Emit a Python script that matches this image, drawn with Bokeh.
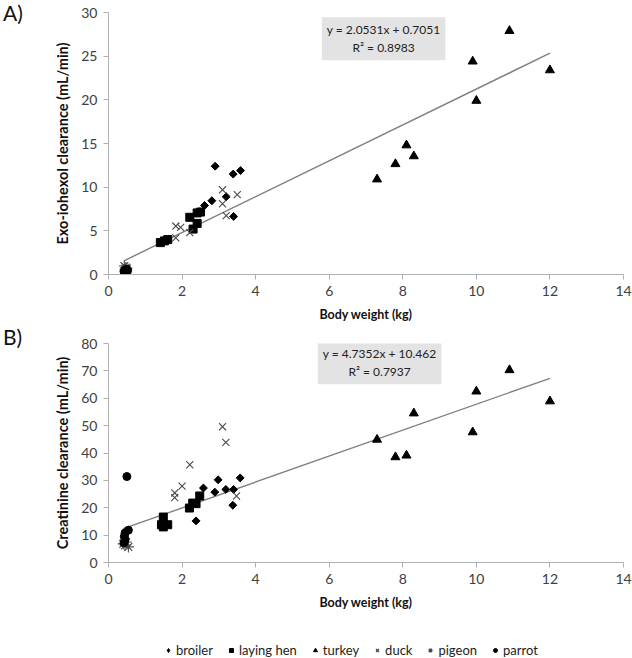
from bokeh.plotting import figure
from bokeh.layouts import column, row
from bokeh.models import Label, Legend, LegendItem, FixedTicker, Range1d, Div
from bokeh.embed import file_html
from bokeh.resources import INLINE
import numpy as np

# ---------------- data ----------------
species = ["broiler", "laying hen", "turkey", "duck", "pigeon", "parrot"]

# Panel A: exo-iohexol clearance (mL/min) vs body weight (kg)
broiler_a_x = [2.90, 3.39, 3.59, 3.20, 2.81, 2.61, 2.48, 3.40]
broiler_a_y = [12.4, 11.5, 11.9, 8.9, 8.45, 7.9, 7.2, 6.65]
hen_a_x = [2.21, 2.41, 2.50, 2.41, 2.30, 1.41, 1.52, 1.61]
hen_a_y = [6.55, 7.05, 7.15, 5.85, 5.2, 3.65, 3.85, 4.0]
turkey_a_x = [7.3, 7.8, 8.1, 8.3, 9.9, 10.0, 10.9, 12.0]
turkey_a_y = [10.9, 12.65, 14.8, 13.55, 24.4, 19.9, 27.9, 23.4]
duck_a_x = [1.83, 1.96, 1.83, 2.21, 3.10, 3.10, 3.50, 3.20]
duck_a_y = [5.55, 5.4, 4.2, 4.8, 9.7, 8.1, 9.15, 6.75]
pigeon_a_x = [0.43, 0.47, 0.50, 0.45]
pigeon_a_y = [0.98, 0.8, 0.7, 0.6]
parrot_a_x = [0.42, 0.45, 0.48, 0.50, 0.52, 0.45]
parrot_a_y = [0.35, 0.55, 0.3, 0.6, 0.45, 0.5]

# Panel B: creatinine clearance (mL/min) vs body weight (kg)
broiler_b_x = [2.58, 2.98, 2.89, 3.19, 3.40, 3.58, 3.38, 2.38]
broiler_b_y = [27.2, 30.2, 25.7, 26.7, 26.7, 30.9, 20.9, 15.2]
hen_b_x = [2.20, 2.29, 2.38, 2.48, 1.49, 1.44, 1.61, 1.49]
hen_b_y = [19.9, 21.7, 21.5, 24.3, 16.6, 13.8, 13.8, 13.0]
turkey_b_x = [7.3, 7.8, 8.1, 8.3, 9.9, 10.0, 10.9, 12.0]
turkey_b_y = [44.9, 38.5, 39.1, 54.5, 47.6, 62.5, 70.3, 58.9]
duck_b_x = [3.10, 3.19, 2.21, 2.00, 1.80, 1.80, 3.48]
duck_b_y = [49.6, 43.9, 35.7, 27.9, 25.4, 23.7, 24.3]
pigeon_b_x = [0.54, 0.45, 0.40, 0.48]
pigeon_b_y = [5.7, 6.3, 6.8, 7.5]
parrot_b_x = [0.50, 0.54, 0.45, 0.43, 0.45, 0.42]
parrot_b_y = [31.4, 11.8, 10.8, 9.5, 8.3, 7.2]

# trend lines (Excel linear fits): slope, intercept, R^2
fit_a = (2.0531, 0.7051, 0.8983)
fit_b = (4.7352, 10.462, 0.7937)
eq_a = "y = 2.0531x + 0.7051\nR\u00b2 = 0.8983"
eq_b = "y = 4.7352x + 10.462\nR\u00b2 = 0.7937"

x_ticks = [0, 2, 4, 6, 8, 10, 12, 14]
y_ticks_a = [0, 5, 10, 15, 20, 25, 30]
y_ticks_b = [0, 10, 20, 30, 40, 50, 60, 70, 80]

FONT = "Lato"
AXIS_COL = "#b0b0b0"
X_COL = "#4a4a4a"
TAG_W = 30


def style_markers(p, data, legend=False):
    (bx, by), (hx, hy), (tx, ty), (dx, dy), (gx, gy), (rx, ry) = data
    lw = 1.5 if legend else 1.1
    rs = {}
    if legend:
        rs["broiler"] = [p.scatter(bx, by, marker="diamond", size=9,
                                   fill_color="black", line_color="black")]
    else:
        rs["broiler"] = [p.scatter(bx, by, marker="square", size=5.6, angle=np.pi / 4,
                                   fill_color="black", line_color="black")]
    rs["laying hen"] = [p.scatter(hx, hy, marker="square", size=8,
                                  fill_color="black", line_color="black")]
    rs["turkey"] = [p.scatter(tx, ty, marker="triangle", size=9,
                              fill_color="black", line_color="black")]
    rs["duck"] = [p.scatter(dx, dy, marker="x", size=10, line_color=X_COL,
                            line_width=lw)]
    rs["pigeon"] = [p.scatter(gx, gy, marker="asterisk", size=11, line_color=X_COL,
                              line_width=lw)]
    rs["parrot"] = [p.scatter(rx, ry, marker="circle", size=8,
                              fill_color="black", line_color="black")]
    return rs


def make_panel(ylabel, yticks, data, fit, eq, box_xy, width, height,
               mb_left, mb_right, mb_top, mb_bottom):
    p = figure(width=width, height=height, output_backend="svg",
               toolbar_location=None,
               x_range=Range1d(0, 14), y_range=Range1d(0, yticks[-1]),
               min_border_left=mb_left, min_border_right=mb_right,
               min_border_top=mb_top, min_border_bottom=mb_bottom)
    p.outline_line_color = None
    p.grid.grid_line_color = None
    for ax in (p.xaxis[0], p.yaxis[0]):
        ax.axis_line_color = AXIS_COL
        ax.major_tick_line_color = AXIS_COL
        ax.minor_tick_line_color = None
        ax.major_tick_out = 5
        ax.major_tick_in = 0
        ax.major_label_text_font = FONT
        ax.major_label_text_font_size = "14px"
        ax.major_label_text_color = "#404040"
        ax.axis_label_text_font = FONT
        ax.axis_label_text_font_style = "bold"
        ax.axis_label_text_color = "#111111"
    p.xaxis.axis_label_text_font_size = "12.5px"
    p.yaxis.axis_label_text_font_size = "14.5px"
    p.xaxis.ticker = FixedTicker(ticks=x_ticks)
    p.yaxis.ticker = FixedTicker(ticks=yticks)
    p.xaxis.axis_label = "Body weight (kg)"
    p.yaxis.axis_label = ylabel
    p.xaxis.major_label_standoff = 6
    p.xaxis.axis_label_standoff = 8
    p.yaxis.major_label_standoff = 6
    p.yaxis.axis_label_standoff = 7

    allx = np.concatenate([np.array(d[0], dtype=float) for d in data])
    lx = np.array([allx.min(), allx.max()])
    slope, icpt, r2 = fit
    p.line(lx, slope * lx + icpt, line_color="#7f7f7f", line_width=1.4)

    rs = style_markers(p, data)

    p.add_layout(Label(x=box_xy[0], y=box_xy[1], text=eq, text_align="center",
                       text_baseline="middle", text_font=FONT, text_font_size="12px",
                       text_color="#222222", background_fill_color="#e3e3e3",
                       padding=5))
    return p, rs


def tag_div(txt, h):
    return Div(text=txt, width=TAG_W, height=h, margin=(0, 0, 0, 3),
               styles={"font-family": "Lato", "font-size": "21px", "color": "#111111",
                       "line-height": "21px", "padding-top": "2px"})


data_a = ((broiler_a_x, broiler_a_y), (hen_a_x, hen_a_y), (turkey_a_x, turkey_a_y),
          (duck_a_x, duck_a_y), (pigeon_a_x, pigeon_a_y), (parrot_a_x, parrot_a_y))
data_b = ((broiler_b_x, broiler_b_y), (hen_b_x, hen_b_y), (turkey_b_x, turkey_b_y),
          (duck_b_x, duck_b_y), (pigeon_b_x, pigeon_b_y), (parrot_b_x, parrot_b_y))

W = 632 - TAG_W - 3
HA, HB, HL = 324, 311, 23

pa, _ = make_panel("Exo-iohexol clearance (mL/min)", y_ticks_a, data_a, fit_a, eq_a,
                   (7.48, 27.0), W, HA, 108 - TAG_W - 3, 9, 12, HA - 275)
pb, _ = make_panel("Creatinine clearance (mL/min)", y_ticks_b, data_b, fit_b, eq_b,
                   (7.37, 73.0), W, HB, 108 - TAG_W - 3, 9, 343 - HA, HB - (562 - HA))

# legend strip (legend-only renderers hold a single NaN point, so nothing is plotted)
pl = figure(width=632, height=HL, output_backend="svg", toolbar_location=None,
            x_range=Range1d(0, 1), y_range=Range1d(0, 1), min_border=0)
pl.axis.visible = False
pl.grid.grid_line_color = None
pl.outline_line_color = None
nan_pt = ([np.nan], [np.nan])
lrs = style_markers(pl, (nan_pt,) * 6, legend=True)
items = [LegendItem(label=s, renderers=lrs[s]) for s in species]
leg = Legend(items=items, orientation="horizontal", location=(163, 0),
             label_text_font=FONT, label_text_font_size="13px", label_text_color="#222222",
             border_line_color=None, background_fill_alpha=0,
             glyph_width=10, glyph_height=10, label_standoff=3, spacing=13,
             padding=2, margin=0)
pl.add_layout(leg, "center")

layout = column(row(tag_div("A)", HA), pa, spacing=0),
                row(tag_div("B)", HB), pb, spacing=0),
                pl, spacing=0)
open("out.html", "w").write(file_html(layout, INLINE))
